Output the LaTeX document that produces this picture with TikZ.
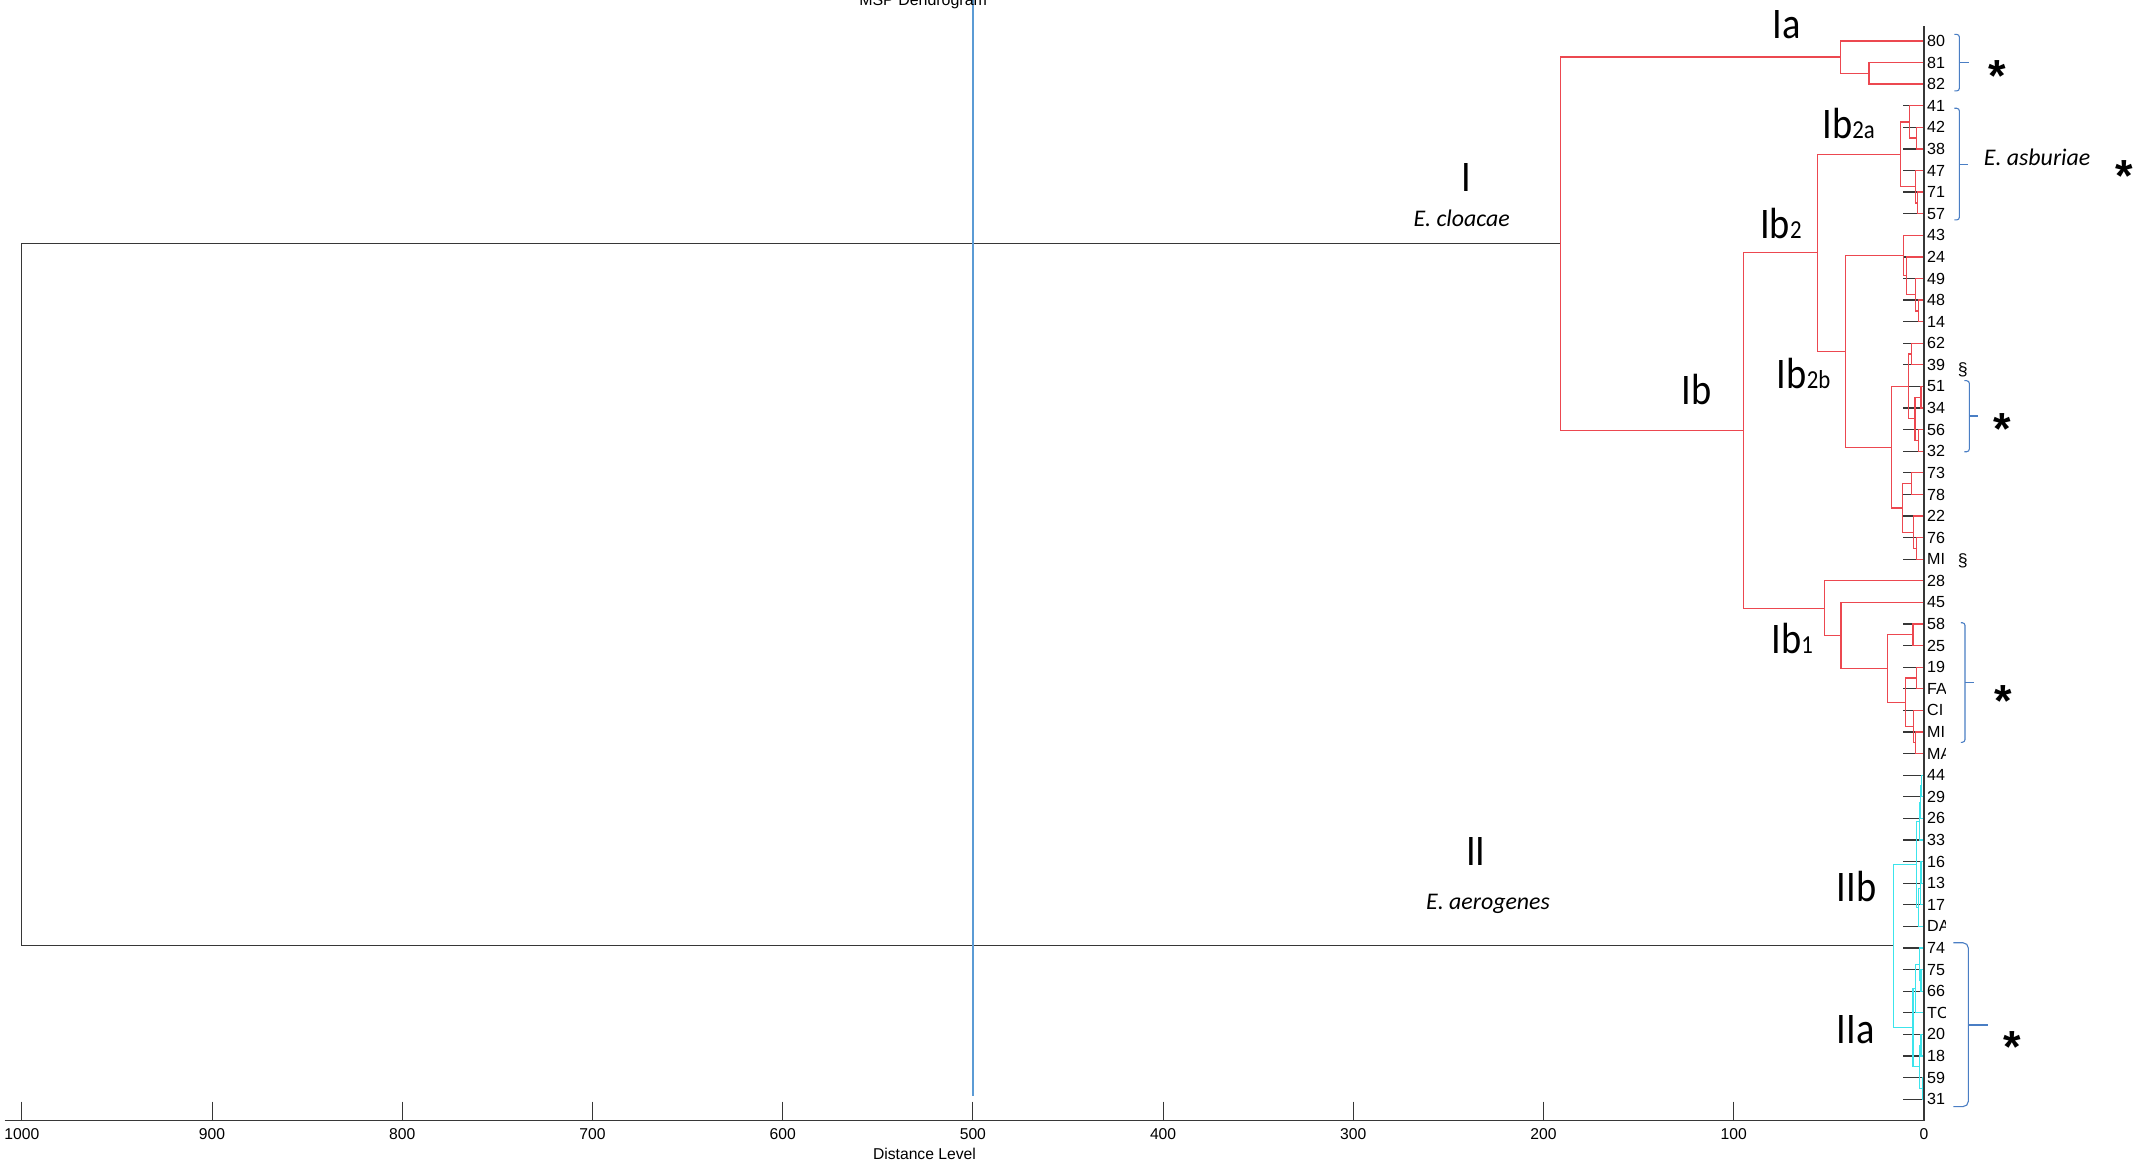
\documentclass[tikz,border=0pt]{standalone}
\usepackage{fontspec}
\setmainfont{Liberation Sans}
\newfontfamily\clab{Carlito}
\usepackage{graphicx}
\definecolor{dred}{RGB}{236,72,80}
\definecolor{dcyan}{RGB}{60,228,236}
\definecolor{dgray}{RGB}{55,55,55}
\definecolor{lblue}{RGB}{91,155,213}
\definecolor{bblue}{RGB}{74,126,196}
\newcommand\dlink[3]{\draw[#1] (#2) |- (#3);}
\newcommand\brk[7]{\draw[brk,rounded corners=#7] (#1,#3) -| (#2,#4) -- (#1,#4); \draw[brk] (#2,#5) -- (#6,#5);}
\newcommand\clus[2]{\scalebox{0.88}[1]{\clab\fontsize{32}{36}\selectfont #1{\fontsize{19}{20}\selectfont #2}}}
\tikzset{
  rline/.style={draw=dred,line width=0.9pt},
  cline/.style={draw=dcyan,line width=0.9pt},
  kline/.style={draw=dgray,line width=0.9pt},
  stub/.style={draw=dgray,line width=0.9pt},
  brk/.style={draw=bblue,line width=0.8pt},
  leaflab/.style={anchor=west,inner sep=0pt,font=\fontsize{11.8}{13}\selectfont},
  ticklab/.style={inner sep=0pt,font=\fontsize{11.5}{13}\selectfont},
  clusterlab/.style={anchor=base west,inner sep=0pt},
  specie/.style={anchor=base,inner sep=0pt,font=\clab\itshape\fontsize{17.5}{20}\selectfont},
  ast/.style={anchor=base,inner sep=0pt,font=\bfseries\fontsize{33}{36}\selectfont},
  sect/.style={inner sep=0pt,font=\fontsize{13}{15}\selectfont}
}
\begin{document}
\begin{tikzpicture}[x=1pt,y=-1pt]
\useasboundingbox (0,0) rectangle (1568,854);
\clip (0,0) rectangle (1568,854);
\fill[white] (0,0) rectangle (1568,854);

% ---------- tree ----------
\begin{scope}[shift={(1411,30)},x=-1.395pt,y=-15.84pt]
\foreach \n [count=\i from 0] in {80,81,82,41,42,38,47,71,57,43,24,49,48,14,62,39,51,34,56,32,73,78,22,76,MIa,28,45,58,25,19,FA,CI,MIb,MA,44,29,26,33,16,13,17,DA,74,75,66,TC,20,18,59,31}
  {\coordinate (l\n) at (0,\i);}
% internal nodes (distance, row)
\coordinate (n8182) at (28.9,1.5);
\coordinate (nIa) at (43.9,0.75);
\coordinate (nA1) at (4,4.5);
\coordinate (nA2) at (7.5,3.75);
\coordinate (nA3) at (3.5,7.5);
\coordinate (nA4) at (4.5,6.75);
\coordinate (nIbtwoa) at (12.2,5.25);
\coordinate (nB1) at (3,12.5);
\coordinate (nB2) at (4.5,11.75);
\coordinate (nB3) at (9,10.875);
\coordinate (nB4) at (10.7,9.9375);
\coordinate (nC1) at (6.4,14.5);
\coordinate (nC2) at (1.5,16.5);
\coordinate (nC3) at (3,18.5);
\coordinate (nC4) at (4.7,17.5);
\coordinate (nC5) at (8,16);
\coordinate (nD1) at (6.4,20.5);
\coordinate (nD2) at (4,23.5);
\coordinate (nD3) at (5.3,22.75);
\coordinate (nD4) at (11.1,21.625);
\coordinate (nC6) at (17.1,18.8125);
\coordinate (nIbtwob) at (41.1,14.375);
\coordinate (nIbtwo) at (56,9.8125);
\coordinate (nE1) at (5.8,27.5);
\coordinate (nE2) at (3.9,29.5);
\coordinate (nE3) at (4.3,32.5);
\coordinate (nE4) at (5.3,31.75);
\coordinate (nE5) at (9.6,30.625);
\coordinate (nE6) at (19.3,29.0625);
\coordinate (nE7) at (43.6,27.53);
\coordinate (nIbone) at (52.4,26.27);
\coordinate (nIb) at (94.8,18.04);
\coordinate (nI) at (191,9.39);
\coordinate (nF1) at (1.2,34.5);
\coordinate (nF2) at (2,35.25);
\coordinate (nF3) at (2.5,36.125);
\coordinate (nF4) at (1.5,38.5);
\coordinate (nF5) at (2,39.25);
\coordinate (nF6) at (2.8,40.125);
\coordinate (nIIb) at (3.9,38.125);
\coordinate (nG1) at (1.5,43.5);
\coordinate (nG2) at (2.5,42.75);
\coordinate (nG3) at (4.5,43.875);
\coordinate (nG4) at (1.5,46.5);
\coordinate (nG5) at (0.8,48.5);
\coordinate (nG6) at (2.2,47.5);
\coordinate (nIIa) at (5.8,45.69);
\coordinate (nII) at (16.1,41.9);
\coordinate (root) at (1000,25.6);
% leaf stubs
\foreach \n in {80,81,82,41,42,38,47,71,57,43,24,49,48,14,62,39,51,34,56,32,73,78,22,76,MIa,28,45,58,25,19,FA,CI,MIb,MA,44,29,26,33,16,13,17,DA,74,75,66,TC,20,18,59,31}
  {\draw[stub] (l\n) -- ++(11,0);}
% black top level
\dlink{kline}{root}{nI}
\dlink{kline}{root}{nII}
% red cluster I
\dlink{rline}{nI}{nIa}
\dlink{rline}{nI}{nIb}
\dlink{rline}{nIa}{l80}
\dlink{rline}{nIa}{n8182}
\dlink{rline}{n8182}{l81}
\dlink{rline}{n8182}{l82}
\dlink{rline}{nIb}{nIbtwo}
\dlink{rline}{nIb}{nIbone}
\dlink{rline}{nIbtwo}{nIbtwoa}
\dlink{rline}{nIbtwo}{nIbtwob}
\dlink{rline}{nIbtwoa}{nA2}
\dlink{rline}{nIbtwoa}{nA4}
\dlink{rline}{nA2}{l41}
\dlink{rline}{nA2}{nA1}
\dlink{rline}{nA1}{l42}
\dlink{rline}{nA1}{l38}
\dlink{rline}{nA4}{l47}
\dlink{rline}{nA4}{nA3}
\dlink{rline}{nA3}{l71}
\dlink{rline}{nA3}{l57}
\dlink{rline}{nIbtwob}{nB4}
\dlink{rline}{nIbtwob}{nC6}
\dlink{rline}{nB4}{l43}
\dlink{rline}{nB4}{nB3}
\dlink{rline}{nB3}{l24}
\dlink{rline}{nB3}{nB2}
\dlink{rline}{nB2}{l49}
\dlink{rline}{nB2}{nB1}
\dlink{rline}{nB1}{l48}
\dlink{rline}{nB1}{l14}
\dlink{rline}{nC6}{nC5}
\dlink{rline}{nC6}{nD4}
\dlink{rline}{nC5}{nC1}
\dlink{rline}{nC5}{nC4}
\dlink{rline}{nC1}{l62}
\dlink{rline}{nC1}{l39}
\dlink{rline}{nC4}{nC2}
\dlink{rline}{nC4}{nC3}
\dlink{rline}{nC2}{l51}
\dlink{rline}{nC2}{l34}
\dlink{rline}{nC3}{l56}
\dlink{rline}{nC3}{l32}
\dlink{rline}{nD4}{nD1}
\dlink{rline}{nD4}{nD3}
\dlink{rline}{nD1}{l73}
\dlink{rline}{nD1}{l78}
\dlink{rline}{nD3}{l22}
\dlink{rline}{nD3}{nD2}
\dlink{rline}{nD2}{l76}
\dlink{rline}{nD2}{lMIa}
\dlink{rline}{nIbone}{l28}
\dlink{rline}{nIbone}{nE7}
\dlink{rline}{nE7}{l45}
\dlink{rline}{nE7}{nE6}
\dlink{rline}{nE6}{nE1}
\dlink{rline}{nE6}{nE5}
\dlink{rline}{nE1}{l58}
\dlink{rline}{nE1}{l25}
\dlink{rline}{nE5}{nE2}
\dlink{rline}{nE5}{nE4}
\dlink{rline}{nE2}{l19}
\dlink{rline}{nE2}{lFA}
\dlink{rline}{nE4}{lCI}
\dlink{rline}{nE4}{nE3}
\dlink{rline}{nE3}{lMIb}
\dlink{rline}{nE3}{lMA}
% cyan cluster II
\dlink{cline}{nII}{nIIb}
\dlink{cline}{nII}{nIIa}
\dlink{cline}{nIIb}{nF3}
\dlink{cline}{nIIb}{nF6}
\dlink{cline}{nF3}{nF2}
\dlink{cline}{nF3}{l33}
\dlink{cline}{nF2}{nF1}
\dlink{cline}{nF2}{l26}
\dlink{cline}{nF1}{l44}
\dlink{cline}{nF1}{l29}
\dlink{cline}{nF6}{nF5}
\dlink{cline}{nF6}{lDA}
\dlink{cline}{nF5}{nF4}
\dlink{cline}{nF5}{l17}
\dlink{cline}{nF4}{l16}
\dlink{cline}{nF4}{l13}
\dlink{cline}{nIIa}{nG3}
\dlink{cline}{nIIa}{nG6}
\dlink{cline}{nG3}{nG2}
\dlink{cline}{nG3}{lTC}
\dlink{cline}{nG2}{l74}
\dlink{cline}{nG2}{nG1}
\dlink{cline}{nG1}{l75}
\dlink{cline}{nG1}{l66}
\dlink{cline}{nG6}{nG4}
\dlink{cline}{nG6}{nG5}
\dlink{cline}{nG4}{l20}
\dlink{cline}{nG4}{l18}
\dlink{cline}{nG5}{l59}
\dlink{cline}{nG5}{l31}
\end{scope}

% ---------- leaf labels (clipped like the original) ----------
\begin{scope}
\clip (1412,0) rectangle (1427,854);
\foreach \n/\t in {80/80,81/81,82/82,41/41,42/42,38/38,47/47,71/71,57/57,43/43,24/24,49/49,48/48,14/14,62/62,39/39,51/51,34/34,56/56,32/32,73/73,78/78,22/22,76/76,MIa/MI,28/28,45/45,58/58,25/25,19/19,FA/FA,CI/CI,MIb/MI,MA/MA,44/44,29/29,26/26,33/33,16/16,13/13,17/17,DA/DA,74/74,75/75,66/66,TC/TC,20/20,18/18,59/59,31/31}
  {\node[leaflab] (t\n) at ([xshift=2.2pt]l\n) {\t};}
\end{scope}

% ---------- axis ----------
\begin{scope}[shift={(1411,0)},x=-1.395pt]
\coordinate (ax0) at (0,822);
\coordinate (axL) at (1009,822);
\coordinate (axT) at (0,19);
\draw[kline] (axL) -- (ax0) -- (axT);
\foreach \v in {0,100,...,1000}{
  \coordinate (tk\v) at (\v,808);
  \draw[kline,line width=0.7pt] (tk\v) -- (\v,822);
  \node[ticklab] (tl\v) at (\v,832) {\v};
}
\coordinate (bl0) at (500,0);
\coordinate (bl1) at (500,804);
\draw[draw=lblue,line width=1pt] (bl0) -- (bl1);
\end{scope}
\node[ticklab] (xlabel) at (678,846) {Distance Level};
\node[anchor=base,inner sep=0pt,font=\fontsize{11.7}{13}\selectfont] (title) at (677,4) {MSP Dendrogram};

% ---------- cluster labels ----------
\node[clusterlab] (labIa) at (1300,28.5) {\clus{Ia}{}};
\node[clusterlab] (labIbtwoa) at (1336.4,101.6) {\clus{Ib}{2a}};
\node[clusterlab] (labIbtwo) at (1290.7,175) {\clus{Ib}{2}};
\node[clusterlab] (labIb) at (1232.9,297) {\clus{Ib}{}};
\node[clusterlab] (labIbtwob) at (1303,284.7) {\clus{Ib}{2b}};
\node[clusterlab] (labIbone) at (1299.1,479.4) {\clus{Ib}{1}};
\node[clusterlab] (labIIb) at (1346.8,661.4) {\clus{IIb}{}};
\node[clusterlab] (labIIa) at (1346.8,765.3) {\clus{IIa}{}};
\node[anchor=base,inner sep=0pt] (labI) at (1075.7,140.2) {\clus{I}{}};
\node[anchor=base,inner sep=0pt] (labII) at (1082.3,634.9) {\clus{II}{}};
\node[specie] (spI) at (1072,165.8) {E. cloacae};
\node[specie] (spII) at (1091.3,666.9) {E. aerogenes};
\node[specie] (spasb) at (1494,121.7) {E. asburiae};

% ---------- brackets ----------
\brk{1433.3}{1437}{25.2}{66.7}{46}{1444}{2pt}
\brk{1433.3}{1437}{79.4}{161.3}{120.5}{1443}{2pt}
\brk{1440.7}{1444.3}{279.2}{331.3}{305.1}{1450.9}{2pt}
\brk{1438}{1441.1}{456.7}{544.4}{500.7}{1447.7}{2pt}
\brk{1432.6}{1443.6}{691.4}{811.6}{751.7}{1458.3}{4pt}

% ---------- marks ----------
\node[ast] (ast1) at (1465,67) {*};
\node[ast] (ast2) at (1558,140.5) {*};
\node[ast] (ast3) at (1468.5,326) {*};
\node[ast] (ast4) at (1469,525.5) {*};
\node[ast] (ast5) at (1476,779.5) {*};
\node[sect] (sec1) at (1439.5,271) {\S};
\node[sect] (sec2) at (1439.5,411) {\S};
\end{tikzpicture}
\end{document}
